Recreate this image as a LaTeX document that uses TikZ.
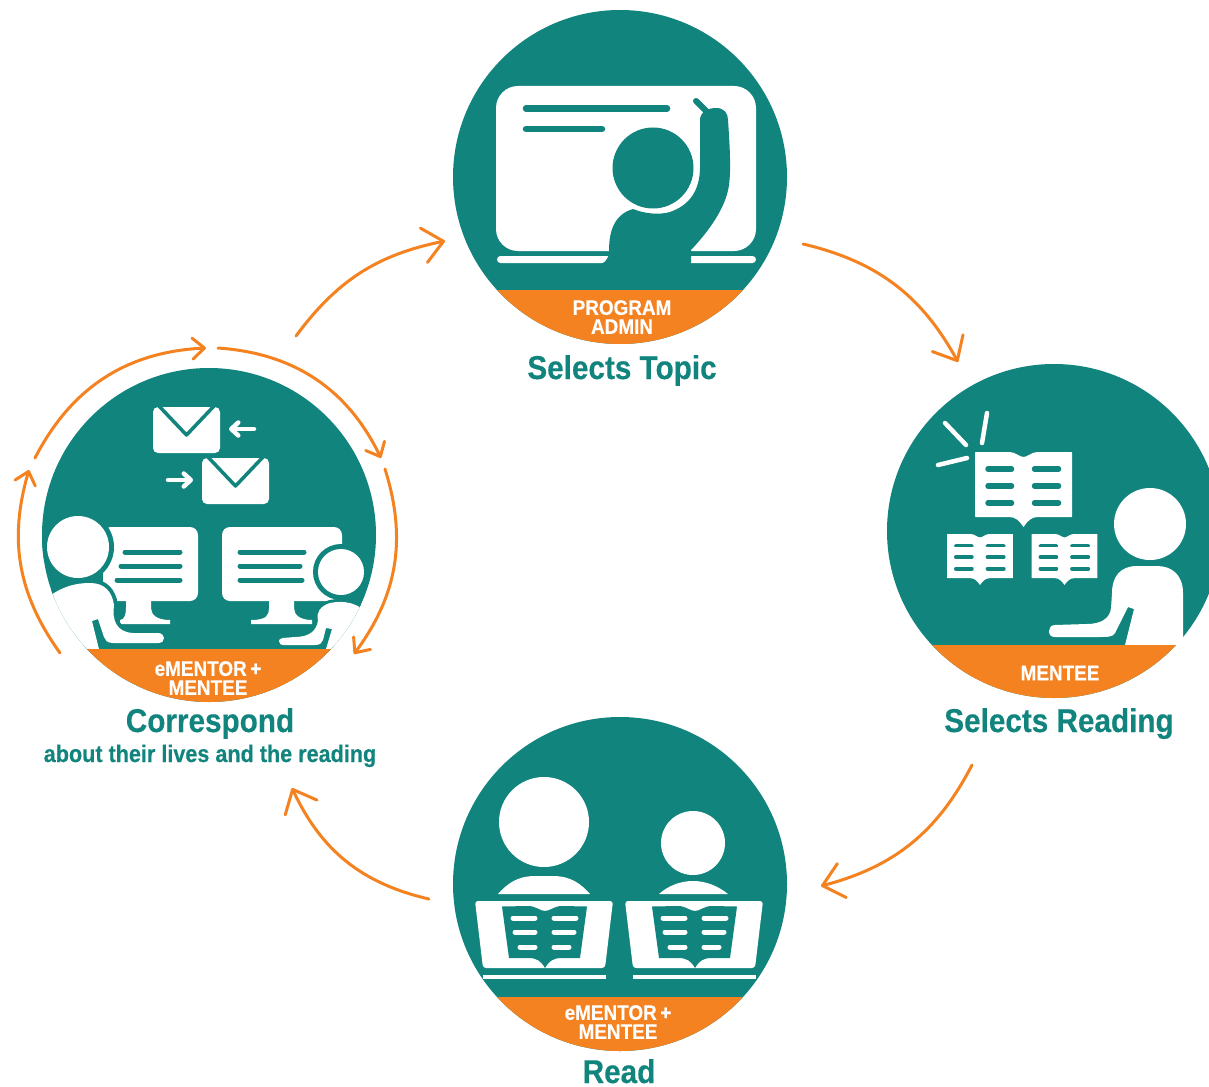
\documentclass[tikz,border=0pt]{standalone}
\usepackage{fontspec}
\newfontfamily\labelfont[FakeStretch=0.9,BoldFeatures={FakeBold=0.35}]{Liberation Sans}
\usetikzlibrary{arrows.meta}
\definecolor{stepteal}{HTML}{11847D}
\definecolor{bandorange}{HTML}{F58220}
\tikzset{
    stepcircle/.style={circle, fill=stepteal, minimum size=334pt, inner sep=0pt},
    bandtext/.style={text=white, font=\labelfont\bfseries\fontsize{21}{19}\selectfont, align=center, inner sep=0pt},
    steptitle/.style={anchor=base, text=stepteal, font=\labelfont\bfseries\fontsize{33}{33}\selectfont, inner sep=0pt},
    stepnote/.style={anchor=base, text=stepteal, font=\labelfont\bfseries\fontsize{24}{24}\selectfont, inner sep=0pt},
    flowarrow/.style={draw=bandorange, line width=3pt, line cap=round, -{Straight Barb[round,length=20pt,width=35pt,line width=3pt]}},
    looparrow/.style={draw=bandorange, line width=3pt, line cap=round, -{Straight Barb[round,length=12pt,width=21pt,line width=3pt]}},
    tealline/.style={draw=stepteal, line width=#1, line cap=round},
    whiteline/.style={draw=white, line width=#1, line cap=round},
    whitepointer/.style={draw=white, line width=4.5pt, line cap=round, -{Straight Barb[round,length=7pt,width=13pt,line width=4.5pt]}}
}
\begin{document}
\begin{tikzpicture}[x=1pt,y=-1pt]
\useasboundingbox (0,0) rectangle (1209,1086);
% circles
\foreach \name/\cx/\cy in {topic/620/177, reading/1054/531, read/620/884, corr/209/535} {
    \node[stepcircle] (\name) at (\cx,\cy) {};
}
% board
\fill[white, rounded corners=22pt] (496,86) rectangle (756,251);
\draw[tealline=6.5pt] (526,108.5) -- (667,108.5);
\draw[tealline=6.5pt] (526,129) -- (602,129);
\fill[white, rounded corners=3.5pt] (497,256) rectangle (756,263);
\fill[stepteal] (596,266) .. controls (604,264) and (609,260) .. (609,251)
    .. controls (609,228) and (616,214) .. (633,209) .. controls (645,214) and (660,215) .. (670,212)
    .. controls (690,205) and (700,190) .. (700,167) -- (700,120)
    .. controls (700,112) and (708,108) .. (716,108) .. controls (724,108) and (728,113) .. (728,120)
    .. controls (730,150) and (731,170) .. (729,185) .. controls (726,208) and (708,232) .. (691,250)
    -- (691,266) -- cycle;
\draw[tealline=6pt] (696,101) -- (708,113);
\fill[stepteal] (653,168) circle (40.5);
% books
\foreach \bx/\by/\bs in {1023.5/452/1, 980/534/0.68, 1064.5/534/0.68} {
    \begin{scope}[shift={(\bx,\by)}, scale=\bs]
    \fill[white] (-48.5,1) -- (-48,0) -- (-14,0) .. controls (-8,0) and (-4,5) .. (0,5)
        .. controls (4,5) and (8,0) .. (14,0) -- (48,0) -- (48.5,1) -- (48.5,64) -- (48,65)
        -- (14,65) .. controls (8,65) and (4,69) .. (0,75) .. controls (-4,69) and (-8,65) .. (-14,65)
        -- (-48,65) -- (-48.5,64) -- cycle;
    \foreach \ly in {17,34,51} {
        \draw[tealline=5.5*\bs pt] (-35.5,\ly) -- (-12,\ly);
        \draw[tealline=5.5*\bs pt] (11,\ly) -- (35,\ly);
    }
    \end{scope}
}
\draw[whiteline=4.5pt] (945,423) -- (966,445);
\draw[whiteline=4.5pt] (987,413) -- (982,443);
\draw[whiteline=4.5pt] (938,465) -- (967,458);
% mentee
\fill[white] (1150,524) circle (36);
\fill[white] (1183,645) -- (1183,593) .. controls (1183,575) and (1172,566) .. (1157,566) -- (1137,566)
    .. controls (1120,566) and (1112,577) .. (1112,593) -- (1111,608) .. controls (1110,619) and (1100,624) .. (1087,624)
    -- (1055,625) .. controls (1051,625) and (1049,628) .. (1049,631) .. controls (1049,635) and (1051,637) .. (1055,637)
    -- (1097,637) .. controls (1108,637) and (1113,637) .. (1115,633) -- (1128,607) -- (1134,609) -- (1125,645) -- cycle;
% readers
\fill[white] (544,822) circle (45);
\fill[white] (498,894) .. controls (507,884) and (517,876) .. (535,876) -- (553,876) .. controls (571,876) and (581,884) .. (590,894) -- cycle;
\fill[white] (693,843) circle (32);
\fill[white] (659,894) .. controls (668,886) and (680,881) .. (693,881) .. controls (706,881) and (718,886) .. (728,894) -- cycle;
\foreach \rx in {0,150} {
    \begin{scope}[shift={(\rx,0)}]
    \fill[white, rounded corners=3pt] (475,901) -- (613,901) -- (605,968) -- (483,968) -- cycle;
    \fill[stepteal] (502,906.5) -- (528,906) .. controls (536,906) and (540,911) .. (545,911)
        .. controls (550,911) and (554,906) .. (562,906) -- (587,906.5) -- (580,958) -- (562,958)
        .. controls (553,958) and (549,961) .. (545,968) .. controls (541,961) and (537,958) .. (528,958) -- (509,958) -- cycle;
    \foreach \lx/\ly/\ex in {513/918/576, 515/932/574, 520/947/569} {
        \draw[whiteline=5pt] (\lx,\ly) -- (535,\ly);
        \draw[whiteline=5pt] (554,\ly) -- (\ex,\ly);
    }
    \fill[white] (483,975) rectangle (606,979);
    \end{scope}
}
% envelopes
\foreach \ex/\ey in {153/407, 202/458} {
    \begin{scope}[shift={(\ex,\ey)}]
    \fill[white, rounded corners=5pt] (0,0) rectangle (67,46);
    \draw[stepteal, line width=3.5pt, line join=round] (5,-2) -- (33.5,28) -- (62,-2);
    \end{scope}
}
\draw[whitepointer] (254,429) -- (229,429);
\draw[whitepointer] (168,480) -- (193,480);
% monitors
\foreach \mx/\sa/\ba/\bb in {103/126/120/170, 222/269/251/312} {
    \fill[white, rounded corners=8pt] (\mx,527) rectangle ({\mx==103 ? 198 : 342},601);
    \fill[white] (\sa,600) -- (\sa,608) .. controls (\sa,615) and ({\sa-2},620) .. (\ba,620) -- (\ba,624) -- (\bb,624) -- (\bb,620)
        .. controls ({\sa+31},620) and ({\sa+25},615) .. ({\sa+25},608) -- ({\sa+25},600) -- cycle;
}
\draw[tealline=5pt] (125,552) -- (180,552);
\draw[tealline=5pt] (121,566) -- (180,566);
\draw[tealline=5pt] (117,580) -- (180,580);
\draw[tealline=5pt] (240,552) -- (304,552);
\draw[tealline=5pt] (240,566) -- (300,566);
\draw[tealline=5pt] (240,580) -- (302,580);
% people at the screens
\begin{scope}
\clip (corr) circle (167);
\fill[white, preaction={draw=stepteal, line width=8pt}] (30,649) -- (40,604) .. controls (55,590) and (70,583) .. (90,583)
    .. controls (105,583) and (112,592) .. (114,605) .. controls (112,620) and (116,632) .. (133,633)
    -- (158,633) .. controls (162,633) and (164,636) .. (164,638) .. controls (164,641) and (162,643) .. (158,643)
    -- (113,643) .. controls (107,643) and (105,640) .. (104,637) -- (98,619) -- (92,621) -- (99,649) -- cycle;
\fill[white, preaction={draw=stepteal, line width=10pt}] (78,547) circle (31);
\fill[white, preaction={draw=stepteal, line width=6pt}] (380,649) -- (370,615) .. controls (358,603) and (345,600) .. (330,603)
    .. controls (320,606) and (316,613) .. (318,620) .. controls (317,630) and (310,637) .. (295,637)
    -- (283,638) .. controls (280,638) and (279,640) .. (279,641) .. controls (279,644) and (281,645) .. (283,645)
    -- (315,645) .. controls (320,645) and (322,643) .. (323,640) -- (326,628) -- (332,629) -- (326,649) -- cycle;
\fill[white, preaction={draw=stepteal, line width=10pt}] (341,572) circle (23);
\end{scope}
% bands
\foreach \name/\cx/\by in {topic/620/290, reading/1054/645, read/620/997, corr/209/649} {
    \begin{scope}
    \clip (\name) circle (167);
    \fill[bandorange] ({\cx-170},\by) rectangle ({\cx+170},{\by+70});
    \end{scope}
}
% labels
\node[bandtext] (topicband) at (622,317) {PROGRAM\\ADMIN};
\node[bandtext] (readingband) at (1060,673) {MENTEE};
\node[bandtext] (readband) at (618,1022) {eMENTOR\,+\\MENTEE};
\node[bandtext] (corrband) at (208,678) {eMENTOR\,+\\MENTEE};
\node[steptitle] (topictitle) at (622,379) {Selects Topic};
\node[steptitle] (readingtitle) at (1059,732) {Selects Reading};
\node[steptitle] (readtitle) at (619,1083) {Read};
\node[steptitle] (corrtitle) at (210,732) {Correspond};
\node[stepnote] (corrnote) at (210,762) {about their lives and the reading};
% arrows
\coordinate (corrout) at (296,336);
\coordinate (topicin) at (445,241);
\coordinate (topicout) at (803,244);
\coordinate (readingin) at (958,362);
\coordinate (readingout) at (972,765);
\coordinate (readin) at (821,886);
\coordinate (readout) at (429,899);
\coordinate (corrin) at (292,788);
\draw[flowarrow] (corrout) to[bend left=21] (topicin);
\draw[flowarrow] (topicout) to[bend left=24] (readingin);
\draw[flowarrow] (readingout) to[bend left=24] (readin);
\draw[flowarrow] (readout) to[bend left=26] (corrin);
% small loop
\coordinate (loopa) at (60,653);
\coordinate (loopb) at (29,470);
\coordinate (loopc) at (35,458);
\coordinate (loopd) at (206,348);
\coordinate (loope) at (218,348);
\coordinate (loopf) at (381,458);
\coordinate (loopg) at (385,469);
\coordinate (looph) at (354,654);
\draw[looparrow] (loopa) to[bend left=26] (loopb);
\draw[looparrow] (loopc) to[bend left=30] (loopd);
\draw[looparrow] (loope) to[bend left=30] (loopf);
\draw[looparrow] (loopg) to[bend left=27] (looph);
\end{tikzpicture}
\end{document}
